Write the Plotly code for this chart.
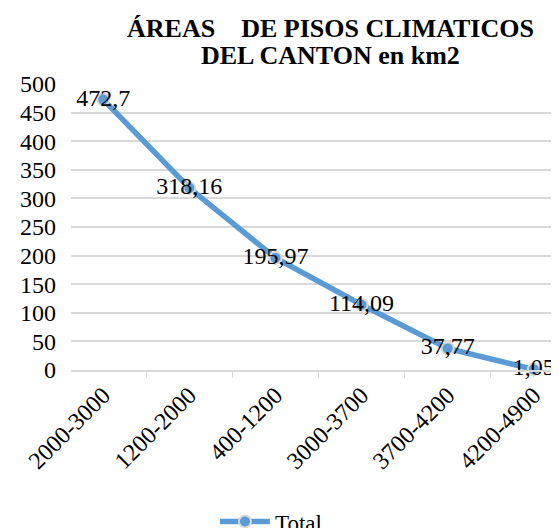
import plotly.graph_objects as go

categories = ["2000-3000", "1200-2000", "400-1200", "3000-3700", "3700-4200", "4200-4900"]
areas = [472.7, 318.16, 195.97, 114.09, 37.77, 1.05]
labels = ["472,7", "318,16", "195,97", "114,09", "37,77", "1,05"]
y_ticks = list(range(0, 501, 50))
title_lines = ["ÁREAS    DE PISOS CLIMATICOS", "DEL CANTON en km2"]

font_name = "Liberation Serif"

fig = go.Figure()

fig.add_trace(go.Scatter(
    x=categories,
    y=areas,
    name="Total",
    mode="lines+markers+text",
    text=labels,
    textposition="middle center",
    textfont=dict(family=font_name, size=24, color="black"),
    line=dict(color="#5B9BD5", width=5.5),
    marker=dict(size=12, color="#5B9BD5", line=dict(color="#D9D9D9", width=2)),
    cliponaxis=False,
))

# title as two tight lines (plotly's <br> spacing is too loose)
for txt, ypos in zip(title_lines, [1.194, 1.101]):
    fig.add_annotation(
        text="<b>" + txt + "</b>",
        xref="paper", yref="paper",
        x=0.525, y=ypos,
        xanchor="center", yanchor="middle",
        showarrow=False,
        font=dict(family=font_name, size=26, color="black"),
    )

# the page body adds an 8px offset, so margins are shifted to compensate
fig.update_layout(
    width=559,
    height=528,
    plot_bgcolor="white",
    paper_bgcolor="white",
    margin=dict(l=63, r=1, t=76, b=166, autoexpand=False),
    font=dict(family=font_name, size=24, color="black"),
    showlegend=True,
    legend=dict(
        orientation="h",
        x=0.404,
        xanchor="center",
        y=-0.53,
        yanchor="middle",
        font=dict(family=font_name, size=23),
        itemwidth=50,
    ),
    xaxis=dict(
        type="category",
        tickangle=-45,
        showgrid=False,
        showline=True,
        linecolor="#D9D9D9",
        linewidth=1.5,
        ticks="outside",
        tickson="boundaries",
        ticklen=6,
        tickcolor="#D9D9D9",
        tickfont=dict(family=font_name, size=24),
    ),
    yaxis=dict(
        range=[0, 500],
        tickvals=y_ticks,
        showgrid=True,
        gridcolor="#D9D9D9",
        gridwidth=1.5,
        zeroline=False,
        showline=False,
        ticks="",
        ticklabelstandoff=14,
        tickfont=dict(family=font_name, size=24),
    ),
)

fig.write_html("out.html")
